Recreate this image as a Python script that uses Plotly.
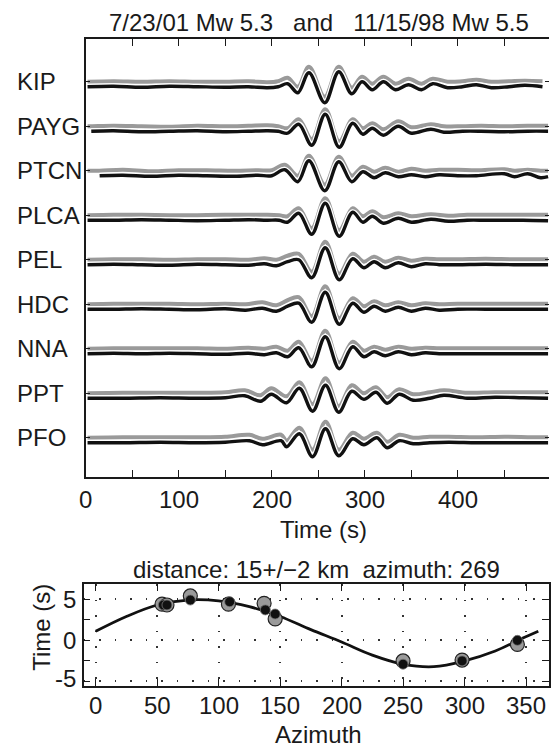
import plotly.graph_objects as go

FONT = "Liberation Sans, Arial, Helvetica, sans-serif"

# ---------------- data ----------------
stations = ["KIP", "PAYG", "PTCN", "PLCA", "PEL", "HDC", "NNA", "PPT", "PFO"]

# knot times (s) and amplitudes (arbitrary units) for each station
# blk = 7/23/01 event (black), gry = 11/15/98 event (grey)
KIP_t = [2, 30, 60, 90, 120, 150, 175, 195, 207, 217, 228, 240, 257, 272, 286, 297, 308, 320, 333, 347, 361, 373, 389, 405, 420, 436, 455, 472, 491]
KIP_blk = [0, 0.5, -0.5, 0.5, 0, -0.5, 0, -1, 0, 3, -6, 14, -16, 15, -7, 5, -3, 5, -3, 2, -3, 3, -1, 0, 2, -1, 0, 1.5, 0]
KIP_gry = [0, 0.5, 0, 0.5, 0, 0, 0.5, -0.5, 0.5, 4, -5, 15, -15, 15, -6, 5, -2, 5, -2, 3, -2, 3, 0, 0.5, 2, 0, 0.5, 1, 0.5]

PAYG_t = [2, 6, 30, 60, 90, 120, 150, 175, 195, 207, 217, 229, 243, 257.5, 272.5, 287, 298, 308, 320, 336, 350, 371, 385, 405, 425, 450, 475, 497]
PAYG_blk = [None, 0, 0.5, -0.5, 0, 0.5, -0.5, 0, 0.5, 0, -2, 7, -14, 17, -16, 8, -3, 3, -4, 5, -2, 2, -1, 0, 0, -0.5, 0, 0]
PAYG_gry = [0, 0, 0.5, 0, -0.5, 0.5, 0, 0.5, 1, 0, -2, 7, -13, 17, -15, 7, -2, 3, -3, 5, -1, 2, 0, 0, 0.5, 0, 0.5, 0.5]

PTCN_t = [2, 15, 40, 70, 100, 130, 160, 185, 200, 214, 228, 240, 257, 272, 286, 298, 310, 322, 336, 350, 365, 380, 400, 420, 450, 461, 475, 489, 497]
PTCN_blk = [None, 0, 0.5, -0.5, 0.5, 0, -0.5, 0.5, 0, 6, -6, 15, -15, 14, -6, 4, -2, 3, -1, 1, -1, 1, 0, 0, 2, -1, 2, -2, -1]
PTCN_gry = [0, 0, 1, -0.5, 0.5, 0.5, 0, 0.5, 0.5, 6, -5, 15, -14, 14, -5, 4, -1, 3, -1, 2, 0, 1, 1, 0.5, 1.5, 0, 1, 0, 0]

PLCA_t = [2, 30, 60, 90, 120, 150, 175, 195, 208, 217, 229, 243, 257.5, 272.5, 287, 298, 308, 320, 336, 350, 371, 390, 410, 430, 450, 470, 497]
PLCA_blk = [0, 0, 0.5, 0, -0.5, 0, 0.5, 0, 0, -2, 7, -14, 17, -16, 8, -2, 4, -3, 2, -2, 1, -1, 0, 0, 0, 0, -0.5]
PLCA_gry = [0, 0.5, 0.5, 0, 0, 0.5, 0.5, 0.5, 0, -1, 7, -13, 17, -15, 7, -1, 4, -2, 2, -1, 1, -0.5, 0.5, 0.5, 0.5, 0.5, 0.5]

PEL_t = [2, 30, 60, 90, 120, 150, 175, 192, 205, 217, 229, 243, 257.5, 272.5, 287, 299, 310, 322, 336, 350, 365, 380, 400, 430, 460, 497]
PEL_blk = [0, 0.5, 0, -0.5, 0.5, 0, -0.5, 1, -1, 3, 5, -13, 17, -15, 6, -3, 3, -3, 2, -2, 1, 0, 0, 0.5, 0, 0]
PEL_gry = [0, 0.5, 0.5, 0, 0.5, 0.5, 0, 1.5, 0, 4, 6, -12, 18, -14, 6, -2, 3, -2, 2, -1, 1, 0.5, 0.5, 1, 0.5, 0.5]

HDC_t = [2, 30, 60, 90, 120, 150, 172, 190, 205, 217, 229, 243, 257.5, 272.5, 287, 299, 310, 322, 336, 350, 365, 380, 400, 430, 460, 497]
HDC_blk = [0, 0, 0.5, 0, -0.5, 0.5, -1, 1, -2, 3, 6, -13, 17, -15, 6, -3, 3, -2, 2, -2, 1, -1, 0, 0, 0, 0]
HDC_gry = [0, 0.5, 0.5, 0.5, 0, 0.5, 0, 2, -1, 4, 7, -12, 18, -14, 6, -2, 3, -1, 2, -1, 1, 0, 0.5, 0.5, 0.5, 0.5]

NNA_t = [2, 30, 60, 90, 120, 150, 175, 192, 205, 217, 229, 243, 257.5, 272.5, 287, 299, 310, 322, 336, 350, 365, 380, 400, 430, 460, 497]
NNA_blk = [0, 0.5, 0, 0.5, 0, -0.5, 0.5, -1, 1, -3, 6, -13, 17, -15, 7, -3, 2, -2, 2, -1, 1, 0, 0, 0, 0, 0]
NNA_gry = [0, 0.5, 0.5, 0.5, 0.5, 0, 1, 0, 2, -2, 7, -12, 18, -14, 7, -2, 2, -1, 2, 0, 1, 0.5, 0.5, 0.5, 0.5, 0.5]

PPT_t = [2, 40, 80, 120, 150, 171, 188, 199.5, 216, 229.6, 243.9, 257.8, 272, 286, 299, 312, 324, 337, 352, 370, 385, 410, 440, 470, 497]
PPT_blk = [0, 0, 0.5, 0, 0.5, 2.5, -3, 4, -4.5, 10, -13, 13, -14, 7, -1, 6, -5, 4, -2, 0, 3, 0, 1, 0.5, 0]
PPT_gry = [0, 0.5, 0.5, 0.5, 1, 3, -2, 5, -3, 11, -11, 15, -13, 8, 0, 6, -4, 4, -1, 1, 3, 0.5, 1, 1, 1]

PFO_t = [2, 40, 80, 120, 150, 176, 190, 210, 216, 229.6, 243.9, 257.8, 272, 287, 299, 313, 324, 337, 352, 370, 390, 420, 450, 480, 497]
PFO_blk = [0, 0, 0.5, 0, 0.5, 2, -2, 2, -4, 9, -14, 14, -13, 4, -2, 5, -5, 2, -1, 0, 0.5, 0, 0, 0, 0]
PFO_gry = [0, 0.5, 0.5, 0.5, 1, 3, -1, 3, -3, 10, -12, 16, -12, 5, -1, 5, -4, 3, 0, 1, 1, 0.5, 1, 0.5, 0.5]

wave_t = [KIP_t, PAYG_t, PTCN_t, PLCA_t, PEL_t, HDC_t, NNA_t, PPT_t, PFO_t]
wave_blk = [KIP_blk, PAYG_blk, PTCN_blk, PLCA_blk, PEL_blk, HDC_blk, NNA_blk, PPT_blk, PFO_blk]
wave_gry = [KIP_gry, PAYG_gry, PTCN_gry, PLCA_gry, PEL_gry, HDC_gry, NNA_gry, PPT_gry, PFO_gry]

time_ticks = [0, 100, 200, 300, 400]
time_minor = [50, 150, 250, 350, 450]

# bottom panel: relative timing vs azimuth
fit_az = [0, 25, 50, 75, 100, 125, 150, 175, 200, 225, 250, 275, 300, 325, 345, 360]
fit_t = [1.1, 2.9, 4.3, 4.9, 4.8, 4.1, 2.9, 1.3, -0.2, -1.8, -2.9, -3.2, -2.5, -1.3, 0.1, 1.1]
grey_az = [54, 58, 77, 108, 137, 146, 250, 298, 343]
grey_dt = [4.4, 4.3, 5.4, 4.4, 4.5, 2.6, -2.5, -2.4, -0.5]
black_az = [55, 58, 77, 109, 138, 146, 250, 298, 343]
black_dt = [4.3, 4.3, 4.9, 4.7, 3.7, 3.2, -2.9, -2.5, 0.0]
az_ticks = [0, 50, 100, 150, 200, 250, 300, 350]
dt_ticks = [-5, 0, 5]
dt_minor = [-2.5, 2.5]

top_title = "7/23/01\u00a0Mw\u00a05.3\u00a0\u00a0\u00a0and\u00a0\u00a0\u00a011/15/98\u00a0Mw\u00a05.5"
bot_title = "distance: 15+/\u22122 km\u00a0\u00a0azimuth: 269"

# ---------------- figure ----------------
W, H = 551, 748
AMP = 1 / 44.5      # amplitude units -> trace spacing units
GREY_SHIFT = 0.112  # grey trace drawn slightly above black
INK = "#1a1a1a"

fig = go.Figure()

for i, name in enumerate(stations):
    off = -i
    t = wave_t[i]
    g = [None if v is None else off + GREY_SHIFT + v * AMP for v in wave_gry[i]]
    b = [None if v is None else off + v * AMP for v in wave_blk[i]]
    fig.add_trace(go.Scatter(x=t, y=g, mode="lines", line=dict(color="#9a9a9a", width=4, shape="spline", smoothing=1.0),
                             xaxis="x", yaxis="y", showlegend=False, hoverinfo="skip"))
    fig.add_trace(go.Scatter(x=t, y=b, mode="lines", line=dict(color="white", width=6, shape="spline", smoothing=1.0),
                             xaxis="x", yaxis="y", showlegend=False, hoverinfo="skip"))
    fig.add_trace(go.Scatter(x=t, y=b, mode="lines", line=dict(color="#111111", width=3.4, shape="spline", smoothing=1.0),
                             xaxis="x", yaxis="y", showlegend=False, hoverinfo="skip"))

fig.add_trace(go.Scatter(x=fit_az, y=fit_t, mode="lines", line=dict(color="#111111", width=2.8, shape="spline", smoothing=1.0),
                         xaxis="x2", yaxis="y2", showlegend=False, hoverinfo="skip"))
fig.add_trace(go.Scatter(x=grey_az, y=grey_dt, mode="markers",
                         marker=dict(size=14, color="#9a9a9a", line=dict(color="#222222", width=1.2)),
                         xaxis="x2", yaxis="y2", showlegend=False, hoverinfo="skip"))
fig.add_trace(go.Scatter(x=black_az, y=black_dt, mode="markers",
                         marker=dict(size=10, color="#111111", line=dict(color="#777777", width=0.8)),
                         xaxis="x2", yaxis="y2", showlegend=False, hoverinfo="skip"))

station_ticks = [-i + GREY_SHIFT for i in range(len(stations))]
Y_TOP_DOMAIN = [1 - 477 / H, 1 - 39 / H]
Y_TOP_RANGE = [-8.77, 1.072]

fig.update_layout(
    width=W, height=H, margin=dict(l=0, r=0, t=0, b=0),
    paper_bgcolor="white", plot_bgcolor="white",
    font=dict(family=FONT, color=INK),
    xaxis=dict(domain=[86 / W, 1], range=[0, 498], anchor="y",
               tickvals=time_ticks, ticks="inside", ticklen=7, tickwidth=1.2, tickcolor=INK, showticklabels=False,
               minor=dict(tickvals=time_minor, ticks="inside", ticklen=7, tickwidth=1.2, tickcolor=INK, showgrid=False),
               showline=True, linecolor=INK, linewidth=1.5, mirror="ticks",
               showgrid=False, zeroline=False),
    yaxis=dict(domain=Y_TOP_DOMAIN, range=Y_TOP_RANGE, anchor="x",
               tickvals=station_ticks, ticks="inside", ticklen=5,
               tickcolor=INK, showticklabels=False,
               showline=True, linecolor=INK, linewidth=1.5,
               showgrid=False, zeroline=False),
    # right-hand tick marks of the trace panel (box edge itself lies just outside the image)
    yaxis3=dict(domain=Y_TOP_DOMAIN, range=Y_TOP_RANGE, anchor="x", overlaying="y", side="right",
                tickvals=station_ticks, ticks="inside", ticklen=4, tickcolor=INK, showticklabels=False,
                showline=False, showgrid=False, zeroline=False),
    xaxis2=dict(domain=[84 / W, 1], range=[-9.72, 368.7], anchor="y2",
                tickvals=az_ticks, ticks="inside", ticklen=7, tickwidth=1.2, tickcolor=INK, showticklabels=False,
                showline=True, linecolor=INK, linewidth=1.5, mirror="ticks",
                showgrid=True, gridcolor="#333333", gridwidth=1.5, griddash="1.5px,14px",
                zeroline=False),
    yaxis2=dict(domain=[1 - 686 / H, 1 - 584 / H], range=[-5.55, 6.85], anchor="x2",
                tickvals=dt_ticks, ticks="inside", ticklen=7, tickwidth=1.2, tickcolor=INK, showticklabels=False,
                minor=dict(tickvals=dt_minor, ticks="inside", ticklen=7, tickwidth=1.2, tickcolor=INK, showgrid=False),
                showline=True, linecolor=INK, linewidth=1.5, mirror="ticks",
                showgrid=True, gridcolor="#333333", gridwidth=1.5, griddash="1.5px,14px",
                zeroline=False),
)
# a dummy (invisible) trace so the right-hand axis is drawn
fig.add_trace(go.Scatter(x=[None], y=[None], xaxis="x", yaxis="y3", showlegend=False, hoverinfo="skip"))

F24 = dict(family=FONT, size=24, color=INK)
ann = []
for i, name in enumerate(stations):
    ann.append(dict(text=name, xref="paper", yref="y", x=15 / W, y=-i + GREY_SHIFT,
                    xanchor="left", yanchor="middle", showarrow=False, font=F24))

# tick labels placed on the axes' own data coordinates
for v in time_ticks:
    ann.append(dict(text=str(v), xref="x", yref="paper", x=v, y=1 - 499 / H, xanchor="center", yanchor="middle",
                    showarrow=False, font=F24))
for v in az_ticks:
    ann.append(dict(text=str(v), xref="x2", yref="paper", x=v, y=1 - 705 / H, xanchor="center", yanchor="middle",
                    showarrow=False, font=F24))
for v in dt_ticks:
    ann.append(dict(text=str(v), xref="paper", yref="y2", x=78 / W, y=v + (0.4 if v < 0 else 0), xanchor="right", yanchor="middle",
                    showarrow=False, font=F24))

def pa(text, x, y, angle=0):
    return dict(text=text, xref="paper", yref="paper", x=x / W, y=1 - y / H, xanchor="center", yanchor="middle",
                showarrow=False, textangle=angle, font=F24)

ann.append(pa(top_title, 320, 22))
ann.append(pa("Time (s)", 325, 529))
ann.append(pa(bot_title, 318, 569))
ann.append(pa("Azimuth", 320, 734))
ann.append(pa("Time (s)", 41, 627, angle=-90))
fig.update_layout(annotations=ann)

fig.write_html("out.html")
